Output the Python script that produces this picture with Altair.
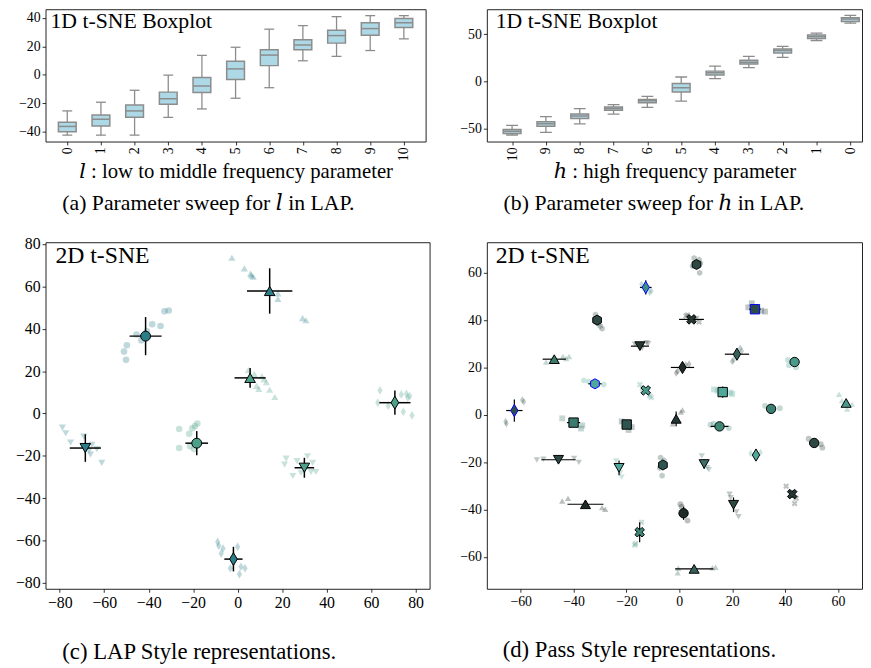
import altair as alt
import pandas as pd

FONT = "Liberation Serif"
TFONT = "Liberation Serif, DejaVu Serif"
EDGE = "#8c8c8c"
FILL = "#add8e6"

# ---------------- (a) sweep over l ----------------
l_labels = ["0", "1", "2", "3", "4", "5", "6", "7", "8", "9", "10"]
a_lo = [-42.3, -42.3, -42.3, -29.8, -23.9, -16.4, -9.0, 9.9, 13.0, 17.1, 25.3]
a_q1 = [-40.0, -35.9, -29.8, -20.7, -12.4, -3.3, 6.5, 17.6, 22.3, 27.8, 33.2]
a_med = [-36.2, -31.2, -25.3, -16.7, -7.8, 4.2, 13.9, 21.0, 27.6, 32.5, 36.6]
a_q3 = [-33.2, -28.2, -21.2, -12.1, -1.9, 9.6, 17.6, 24.6, 31.4, 36.6, 39.6]
a_hi = [-25.3, -19.2, -10.8, -0.1, 13.7, 19.4, 32.1, 34.6, 40.9, 41.6, 41.6]

# ---------------- (b) sweep over h (x order 10 .. 0) ----------------
h_labels = ["10", "9", "8", "7", "6", "5", "4", "3", "2", "1", "0"]
b_lo = [-56.8, -54.1, -44.9, -34.6, -27.5, -21.0, 2.9, 14.5, 25.4, 43.2, 61.6]
b_q1 = [-55.1, -47.6, -39.4, -30.5, -22.7, -11.4, 6.7, 18.3, 29.9, 45.2, 63.3]
b_med = [-52.7, -44.9, -36.7, -28.8, -20.6, -6.7, 9.0, 20.3, 32.6, 47.3, 66.0]
b_q3 = [-51.0, -42.8, -34.6, -27.1, -19.3, -2.2, 10.8, 22.4, 34.3, 49.0, 67.4]
b_hi = [-46.6, -37.4, -28.8, -24.7, -15.9, 4.6, 16.2, 26.5, 37.0, 51.0, 69.8]

# ---------------- shapes ----------------
DIAM = "M0,-1L0.6,0L0,1L-0.6,0Z"
XSH = "M-0.5,-1L0,-0.5L0.5,-1L1,-0.5L0.5,0L1,0.5L0.5,1L0,0.5L-0.5,1L-1,0.5L-0.5,0L-1,-0.5Z"
HEX = "M0,-1L0.866,-0.5L0.866,0.5L0,1L-0.866,0.5L-0.866,-0.5Z"
SHAPES = {"o": "circle", "^": "triangle-up", "v": "triangle-down", "d": DIAM,
          "s": "square", "X": XSH, "h": HEX}
SIZE_F = {"o": 1.0, "^": 1.15, "v": 1.15, "d": 1.7, "s": 1.0, "X": 1.05, "h": 1.15}

# ---------------- (c) LAP style ----------------
C_DARK = "#2b7d87"
C_GREEN = "#4c9f88"
c_cx = [-41.4, 14.4, 5.6, 70.7, -68.5, -18.4, 30.0, -1.9]
c_cy = [36.5, 57.8, 16.8, 5.1, -16.3, -14.0, -25.6, -68.7]
c_ex = [7.2, 10.2, 7.0, 7.0, 7.0, 5.1, 4.4, 4.1]
c_ey = [9.0, 10.7, 4.7, 5.7, 6.5, 5.7, 4.7, 5.8]
c_mk = ["o", "^", "^", "d", "v", "o", "v", "d"]
c_col = [C_DARK, C_DARK, C_GREEN, C_GREEN, C_DARK, C_GREEN, C_GREEN, C_DARK]

c_px = [-51.1, -49.8, -50.2, -43.3, -40.8, -38.4, -34.7, -32.9, -31.0, -45.5,
        -2.6, 3.0, 5.8, 7.0, 18.1, 18.1, 29.2, 30.7, 6.2,
        4.8, 7.5, 10.9, 11.9, 9.5, 12.9, 14.4, 16.7, 8.5,
        64.0, 63.0, 67.7, 73.6, 75.9, 77.4, 76.5, 74.5, 78.4,
        -78.8, -77.3, -75.1, -69.2, -65.5, -66.2, -63.3, -61.1, -66.8,
        -26.3, -26.3, -21.8, -20.4, -19.2, -18.1, -21.4, -19.6,
        21.8, 21.1, 24.8, 26.7, 31.4, 33.7, 33.0, 35.2, 28.5,
        -9.0, -8.5, -6.6, -7.4, 0.0, -3.3, 0.8, 3.3, 1.5]
c_py = [29.2, 32.2, 25.3, 34.5, 38.8, 42.1, 41.3, 48.2, 48.6, 37.3,
        73.5, 68.5, 66.0, 64.5, 56.7, 54.1, 45.0, 44.0, 65.2,
        20.5, 18.6, 17.6, 16.2, 11.6, 14.8, 11.2, 7.8, 13.0,
        10.9, 5.1, 3.7, 9.0, 9.3, 8.2, 7.5, 0.8, -0.9,
        -6.7, -9.3, -13.7, -10.9, -14.8, -19.4, -16.8, -23.3, -17.5,
        -7.3, -16.3, -9.6, -7.0, -5.9, -4.7, -15.5, -16.8,
        -21.3, -24.1, -29.5, -22.5, -20.2, -23.3, -27.6, -27.6, -28.0,
        -60.6, -62.4, -63.7, -66.0, -62.9, -73.0, -75.8, -73.0, -72.3]
c_pg = [0] * 10 + [1] * 9 + [2] * 9 + [3] * 9 + [4] * 9 + [5] * 8 + [6] * 9 + [7] * 9

# ---------------- (d) Pass style ----------------
d_cx = [6.5, -12.7, 28.6, 4.6, -31.1, -14.9, 21.8, -47.3, 1.2, 43.6, -31.9, -12.7, 16.4, 63.1, -62.4, 34.7,
        -40.0, -19.9, -1.2, 15.2, 51.0, 29.0, -45.7, -22.8, -6.2, 9.4, 42.7, -35.5, 1.6, 20.5, -15.0, 5.6]
d_cy = [63.5, 53.8, 44.6, 40.3, 40.0, 29.0, 25.6, 23.5, 20.0, 22.3, 13.1, 10.3, 9.6, 5.0, 1.8, 2.5,
        -3.3, -4.1, -1.7, -4.9, -11.9, -17.0, -19.0, -22.4, -21.2, -20.8, -33.5, -37.8, -41.6, -38.0, -49.6, -65.1]
d_ex = [1.0, 2.2, 2.2, 4.7, 0.8, 3.4, 4.6, 4.4, 4.4, 0.0, 2.5, 0.5, 0.5, 0.5, 3.1, 0.0,
        2.5, 0.5, 0.5, 3.4, 0.0, 0.5, 6.5, 0.5, 0.5, 0.5, 0.5, 6.8, 0.5, 0.5, 0.5, 7.2]
d_ey = [1.0, 3.0, 0.5, 0.8, 1.5, 0.5, 0.5, 0.5, 1.5, 0.0, 0.5, 0.5, 2.4, 0.5, 4.7, 0.0,
        0.5, 0.5, 3.1, 0.5, 0.0, 2.0, 0.5, 3.1, 0.5, 2.0, 1.5, 0.5, 2.8, 3.1, 4.2, 0.5]
d_mk = ["h", "d", "s", "X", "h", "v", "d", "^", "d", "o", "h", "X", "s", "^", "d", "o",
        "s", "s", "^", "o", "o", "d", "v", "v", "h", "v", "X", "^", "o", "v", "X", "^"]
d_col = ["#2e4843", "#3f8f80", "#2e4a47", "#243633", "#2e4843", "#243633", "#35615a", "#3a7a6c",
         "#1f2b29", "#4a9a8c", "#4fa899", "#4a9a8c", "#4fa899", "#4a9a8c", "#2f4f4a", "#3b7f72",
         "#3b7a6e", "#2f5550", "#243633", "#3f8878", "#2e4843", "#4fa899", "#2e4843", "#4fa899",
         "#2f5550", "#3b6f68", "#243633", "#1f2b29", "#1f2b29", "#2e4843", "#3f8878", "#35615a"]
d_edge = ["black", "blue", "blue", "black", "black", "black", "black", "black", "black", "black", "blue",
          "black", "black", "black", "blue", "black", "black", "black", "black", "black", "black", "black",
          "black", "black", "black", "black", "black", "black", "black", "black", "black", "black"]

d_px = [5.6, 7.5, 5.0, 7.7, 8.0,
        -14.3, -10.6, -11.2,
        27.4, 26.1, 32.4, 31.0,
        2.5, 7.5, 3.1, 6.5,
        -31.7, -29.9, -29.2, -30.5,
        -12.4, -16.8, -11.8, -14.0,
        23.0, 23.6, 20.5, 20.0,
        -50.4, -44.0, -41.7, -42.8,
        -0.6, 3.7, -1.2, 2.5,
        41.1, 41.5, 44.1,
        -36.1, -34.2, -28.6,
        -14.9, -11.2, -10.6, -14.0,
        13.1, 19.3, 20.0, 14.5,
        60.4, 61.5, 65.3, 63.5,
        -59.4, -58.8, -65.7, -65.4,
        32.4, 38.0,
        -44.3, -36.7, -37.2,
        -21.8, -18.0, -19.2,
        1.2, 0.6, -2.5,
        11.8, 18.7, 13.0,
        48.9, 53.5, 54.1,
        27.0, 30.7,
        -53.9, -51.4, -39.8, -38.0,
        -23.9, -22.4, -21.8,
        -7.1, -5.8, -6.5, -7.4,
        8.5, 11.2, 10.6,
        40.4, 44.2, 43.6,
        -44.3, -42.1, -29.2, -28.0,
        0.4, 0.9, 3.1,
        19.0, 19.4, 22.4, 21.6,
        -14.3, -16.5, -16.9,
        -0.6, 13.7, -0.4, 12.5]
d_py = [66.2, 65.5, 62.8, 60.0, 64.0,
        55.1, 52.4, 51.7,
        47.1, 45.4, 43.6, 44.0,
        41.7, 39.2, 42.2, 40.8,
        42.3, 37.5, 36.4, 38.5,
        30.5, 29.8, 30.0, 28.2,
        28.1, 27.0, 23.2, 22.5,
        22.3, 24.6, 24.6, 23.8,
        18.4, 21.4, 17.7, 21.0,
        23.2, 20.9, 20.1,
        14.5, 14.0, 12.8,
        12.8, 8.0, 7.3, 11.0,
        10.7, 9.4, 8.8, 10.2,
        8.7, 6.0, 4.5, 2.4,
        6.2, 5.5, -2.8, -3.8,
        3.8, 2.8,
        -1.5, -4.5, -5.8,
        -2.8, -5.2, -6.4,
        2.0, 1.2, -3.8,
        -4.2, -5.6, -3.8,
        -10.1, -12.4, -13.9,
        -16.3, -15.9,
        -19.1, -18.8, -18.4, -20.1,
        -19.5, -24.6, -26.4,
        -18.1, -19.3, -25.7, -22.5,
        -17.4, -23.2, -22.4,
        -30.2, -35.3, -37.5,
        -36.4, -35.3, -39.2, -39.9,
        -37.8, -38.8, -44.7,
        -33.6, -35.0, -43.1, -41.0,
        -45.4, -54.4, -55.0,
        -66.7, -64.4, -64.8, -64.6]
d_pg = ([0] * 5 + [1] * 3 + [2] * 4 + [3] * 4 + [4] * 4 + [5] * 4 + [6] * 4 + [7] * 4 + [8] * 4 +
        [9] * 3 + [10] * 3 + [11] * 4 + [12] * 4 + [13] * 4 + [14] * 4 + [15] * 2 + [16] * 3 +
        [17] * 3 + [18] * 3 + [19] * 3 + [20] * 3 + [21] * 2 + [22] * 4 + [23] * 3 + [24] * 4 +
        [25] * 3 + [26] * 3 + [27] * 4 + [28] * 3 + [29] * 4 + [30] * 3 + [31] * 4)


def lbl(fs):
    return dict(labelFont=FONT, labelFontSize=fs, labelColor="black", labelOverlap=False, labelFlush=False,
                labelSeparation=0, labelPadding=2, tickSize=3.5, tickColor="black", tickWidth=0.8,
                domain=False, grid=False)


def cap_title(text, dx, offset, fs):
    return alt.TitleParams(text=text, orient="bottom", anchor="start", frame="group", dx=dx,
                           offset=offset, font=TFONT, fontSize=fs, fontWeight="normal", color="black")


def box_panel(labels, lo, q1, med, q3, hi, xdom, ydom, yvals, w, h, capw, xtitle, caption, cap_dx, anno_dx, clip):
    df = pd.DataFrame({"pos": list(range(len(labels))), "lo": lo, "q1": q1, "med": med, "q3": q3, "hi": hi})
    lab_expr = "[" + ",".join("'%s'" % s for s in labels) + "][datum.value]"
    xsc = alt.Scale(domain=xdom, nice=False, zero=False)
    ysc = alt.Scale(domain=ydom, nice=False, zero=False)
    xax = alt.Axis(values=list(range(len(labels))), labelExpr=lab_expr, labelAngle=270,
                   title=xtitle, titlePadding=0, titleFont=TFONT, titleFontSize=21,
                   titleFontWeight="normal", titleColor="black", **lbl(14))
    yax = alt.Axis(values=yvals, title=None, **lbl(14))

    def X():
        return alt.X("pos:Q", scale=xsc, axis=xax)

    def Y(f):
        return alt.Y(f, type="quantitative", scale=ysc, axis=yax)

    base = alt.Chart(df)
    whisk = base.mark_rule(color=EDGE, strokeWidth=1.3, clip=clip).encode(x=X(), y=Y("lo"), y2="hi:Q")
    cap_lo = base.mark_tick(orient="horizontal", size=capw, thickness=1.3, color=EDGE, opacity=1,
                            clip=clip).encode(x=X(), y=Y("lo"))
    cap_hi = base.mark_tick(orient="horizontal", size=capw, thickness=1.3, color=EDGE, opacity=1,
                            clip=clip).encode(x=X(), y=Y("hi"))
    box = base.mark_bar(orient="vertical", size=18, fill=FILL, stroke=EDGE, strokeWidth=1.5,
                        clip=clip).encode(x=X(), y=Y("q1"), y2="q3:Q")
    medl = base.mark_tick(orient="horizontal", size=18, thickness=1.5, color=EDGE, opacity=1,
                          clip=clip).encode(x=X(), y=Y("med"))
    anno = alt.Chart(pd.DataFrame({"t": ["1D t-SNE Boxplot"]})).mark_text(
        align="left", baseline="top", font=FONT, fontSize=22, color="black").encode(
        x=alt.value(anno_dx), y=alt.value(2), text="t:N")
    return alt.layer(whisk, cap_lo, cap_hi, box, medl, anno).properties(
        width=w, height=h, title=cap_title(caption, cap_dx, 12, 22))


def scatter_panel(cx, cy, ex, ey, mk, col, edge, px, py, pg, xdom, ydom, xticks, yticks, w, h,
                  csize, psize, popac, ew, caption, cap_dx, anno_dx, fs):
    cen = pd.DataFrame({"x": cx, "y": cy,
                        "xlo": [a - b for a, b in zip(cx, ex)], "xhi": [a + b for a, b in zip(cx, ex)],
                        "ylo": [a - b for a, b in zip(cy, ey)], "yhi": [a + b for a, b in zip(cy, ey)],
                        "shape": [SHAPES[m] for m in mk], "sz": [csize * SIZE_F[m] for m in mk],
                        "color": col, "edge": edge})
    pts = pd.DataFrame({"x": px, "y": py, "shape": [SHAPES[mk[g]] for g in pg],
                        "sz": [psize * SIZE_F[mk[g]] for g in pg],
                        "color": [col[g] for g in pg]})
    xs = alt.Scale(domain=xdom, nice=False, zero=False)
    ys = alt.Scale(domain=ydom, nice=False, zero=False)
    xax = alt.Axis(values=xticks, title=None, **lbl(fs))
    yax = alt.Axis(values=yticks, title=None, **lbl(fs))

    def X(f):
        return alt.X(f, type="quantitative", scale=xs, axis=xax)

    def Y(f):
        return alt.Y(f, type="quantitative", scale=ys, axis=yax)

    faded = alt.Chart(pts).mark_point(filled=True, opacity=popac, strokeWidth=0).encode(
        x=X("x"), y=Y("y"), shape=alt.Shape("shape:N", scale=None), color=alt.Color("color:N", scale=None),
        size=alt.Size("sz:Q", scale=None))
    errx = alt.Chart(cen).mark_rule(color="black", strokeWidth=ew).encode(x=X("xlo"), x2="xhi:Q", y=Y("y"))
    erry = alt.Chart(cen).mark_rule(color="black", strokeWidth=ew).encode(x=X("x"), y=Y("ylo"), y2="yhi:Q")
    cent = alt.Chart(cen).mark_point(filled=True, opacity=1, strokeWidth=1).encode(
        x=X("x"), y=Y("y"), shape=alt.Shape("shape:N", scale=None),
        color=alt.Color("color:N", scale=None), stroke=alt.Stroke("edge:N", scale=None),
        size=alt.Size("sz:Q", scale=None))
    anno = alt.Chart(pd.DataFrame({"t": ["2D t-SNE"]})).mark_text(
        align="left", baseline="top", font=FONT, fontSize=24, color="black").encode(
        x=alt.value(anno_dx), y=alt.value(2), text="t:N")
    return alt.layer(faded, errx, erry, cent, anno).properties(
        width=w, height=h, title=cap_title(caption, cap_dx, 32, 23))


pa = box_panel(l_labels, a_lo, a_q1, a_med, a_q3, a_hi, [-0.5, 10.5], [-46.8, 46.1],
               [-40, -20, 0, 20, 40], 385, 134, 10, "\U0001D459 : low to middle frequency parameter",
               "(a) Parameter sweep for \U0001D459 in LAP.", 17, 5, False)
pb = box_panel(h_labels, b_lo, b_q1, b_med, b_q3, b_hi, [-0.6, 10.2], [-63.7, 76.3],
               [-50, 0, 50], 380, 134, 12, "\u210E : high frequency parameter",
               "(b) Parameter sweep for \u210E in LAP.", 17, 9, True)
c_edge = ["black"] * len(c_cx)
pc = scatter_panel(c_cx, c_cy, c_ex, c_ey, c_mk, c_col, c_edge, c_px, c_py, c_pg,
                   [-86.4, 86.3], [-82.7, 80.8], [-80, -60, -40, -20, 0, 20, 40, 60, 80],
                   [-80, -60, -40, -20, 0, 20, 40, 60, 80], 389, 351, 100, 45, 0.3, 1.5,
                   "(c) LAP Style representations.", 17, 10, 16)
pd_ = scatter_panel(d_cx, d_cy, d_ex, d_ey, d_mk, d_col, d_edge, d_px, d_py, d_pg,
                    [-72.8, 69.1], [-73.5, 72.9], [-60, -40, -20, 0, 20, 40, 60],
                    [-60, -40, -20, 0, 20, 40, 60], 380, 351, 90, 35, 0.3, 1.2,
                    "(d) Pass Style representations.", 16, 9, 14)

chart = alt.concat(pa, pb, pc, pd_, columns=2, spacing={"row": 102, "column": 58},
                   bounds="flush", align="each").properties(
    padding={"left": 6, "top": -4, "right": 0, "bottom": 0}
).configure_view(stroke="#222222", strokeWidth=1).configure_axis(
    labelFont=FONT, labelColor="black", labelOverlap=False, labelFlush=False,
    titleFont=TFONT, titleFontSize=21, titleFontWeight="normal", titleColor="black")

chart.save("out.html", embed_options={"renderer": "svg", "actions": False})
